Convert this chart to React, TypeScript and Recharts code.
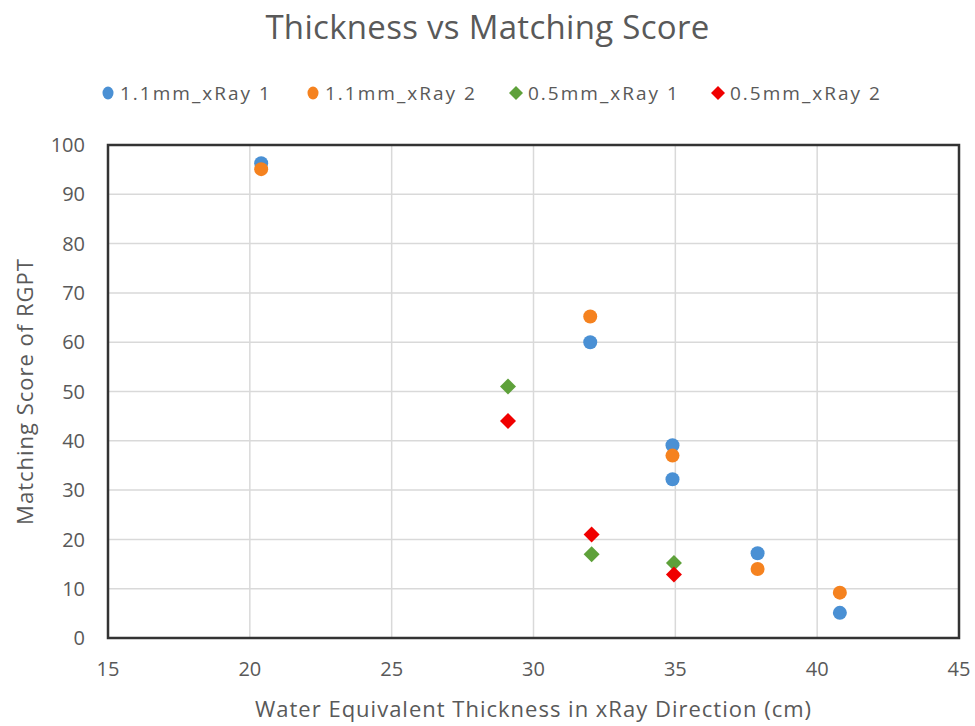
import React from "react";
import {
  ScatterChart,
  Scatter,
  XAxis,
  YAxis,
  CartesianGrid,
  ReferenceArea,
} from "recharts";

// thickness (cm) and matching score for each detector / xRay combination
const thick11mmRay1 = [20.4, 32.0, 34.9, 34.9, 37.9, 40.8];
const score11mmRay1 = [96.3, 60.0, 39.1, 32.2, 17.2, 5.1];

const thick11mmRay2 = [20.4, 32.0, 34.9, 37.9, 40.8];
const score11mmRay2 = [95.1, 65.2, 37.0, 14.0, 9.2];

const thick05mmRay1 = [29.1, 32.05, 34.95];
const score05mmRay1 = [51.0, 17.0, 15.2];

const thick05mmRay2 = [29.1, 32.05, 34.95];
const score05mmRay2 = [44.0, 21.0, 12.9];

const xTicks = [15, 20, 25, 30, 35, 40, 45];
const yTicks = [0, 10, 20, 30, 40, 50, 60, 70, 80, 90, 100];

const FONT = "'Open Sans', sans-serif";
const TEXT = "#595959";

const toPoints = (xs: number[], ys: number[]) =>
  xs.map((x, i) => ({ x, y: ys[i] }));

const series = [
  { name: "1.1mm_xRay 1", color: "#4a90d4", kind: "circle", legendX: 100, data: toPoints(thick11mmRay1, score11mmRay1) },
  { name: "1.1mm_xRay 2", color: "#f5821f", kind: "circle", legendX: 305, data: toPoints(thick11mmRay2, score11mmRay2) },
  { name: "0.5mm_xRay 1", color: "#5ea13a", kind: "diamond", legendX: 508, data: toPoints(thick05mmRay1, score05mmRay1) },
  { name: "0.5mm_xRay 2", color: "#f00000", kind: "diamond", legendX: 710, data: toPoints(thick05mmRay2, score05mmRay2) },
];

const Marker = ({ cx, cy, color, kind }: any) => {
  if (cx == null || cy == null) return null;
  if (kind === "diamond") {
    const r = 8;
    return (
      <path
        d={`M${cx},${cy - r} L${cx + r},${cy} L${cx},${cy + r} L${cx - r},${cy} Z`}
        fill={color}
      />
    );
  }
  return <circle cx={cx} cy={cy} r={7} fill={color} />;
};

const LegendIcon = ({ color, kind }: any) => (
  <svg width={16} height={16} style={{ marginRight: 4 }}>
    {kind === "diamond" ? (
      <path d="M8,1 L15,8 L8,15 L1,8 Z" fill={color} />
    ) : (
      <ellipse cx={8} cy={8} rx={5.5} ry={6.5} fill={color} />
    )}
  </svg>
);

export default function App() {
  return (
    <div style={{ position: "absolute", left: 0, top: 0, width: 975, height: 726, background: "#fff" }}>
      <div
        style={{
          position: "absolute",
          top: 4,
          width: 975,
          textAlign: "center",
          fontFamily: FONT,
          fontSize: 33,
          letterSpacing: 0.3,
          color: TEXT,
        }}
      >
        Thickness vs Matching Score
      </div>
      {series.map((s) => (
        <div
          key={s.name}
          style={{
            position: "absolute",
            top: 80,
            left: s.legendX,
            display: "flex",
            alignItems: "center",
            fontFamily: FONT,
            fontSize: 19,
            letterSpacing: 2,
            color: TEXT,
            whiteSpace: "nowrap",
          }}
        >
          <LegendIcon color={s.color} kind={s.kind} />
          <span>{s.name}</span>
        </div>
      ))}
      <ScatterChart
        width={975}
        height={726}
        margin={{ top: 145, right: 16, left: 0, bottom: 0 }}
      >
        <CartesianGrid stroke="#d9d9d9" strokeWidth={1.5} />
        <XAxis
          type="number"
          dataKey="x"
          domain={[15, 45]}
          ticks={xTicks}
          height={88}
          tickLine={false}
          axisLine={false}
          tickMargin={18}
          tick={{ fill: TEXT, fontSize: 20, fontFamily: FONT }}
          label={(p: any) => {
            const vb = p.viewBox;
            return (
              <text
                x={vb.x + vb.width / 2}
                y={vb.y + 79}
                textAnchor="middle"
                fill={TEXT}
                fontSize={22}
                letterSpacing={1}
                fontFamily={FONT}
              >
                Water Equivalent Thickness in xRay Direction (cm)
              </text>
            );
          }}
        />
        <YAxis
          type="number"
          dataKey="y"
          domain={[0, 100]}
          ticks={yTicks}
          width={108}
          tickLine={false}
          axisLine={false}
          tickMargin={17}
          tick={{ fill: TEXT, fontSize: 20, fontFamily: FONT }}
          label={(p: any) => {
            const vb = p.viewBox;
            const cy = vb.y + vb.height / 2;
            return (
              <text
                x={33}
                y={cy}
                transform={`rotate(-90, 33, ${cy})`}
                textAnchor="middle"
                fill={TEXT}
                fontSize={22}
                letterSpacing={1}
                fontFamily={FONT}
              >
                Matching Score of RGPT
              </text>
            );
          }}
        />
        <ReferenceArea
          x1={15}
          x2={45}
          y1={0}
          y2={100}
          fill="none"
          stroke="#333"
          strokeWidth={2.5}
          ifOverflow="visible"
        />
        {series.map((s) => (
          <Scatter
            key={s.name}
            name={s.name}
            data={s.data}
            fill={s.color}
            isAnimationActive={false}
            shape={(props: any) => <Marker {...props} color={s.color} kind={s.kind} />}
          />
        ))}
      </ScatterChart>
    </div>
  );
}
